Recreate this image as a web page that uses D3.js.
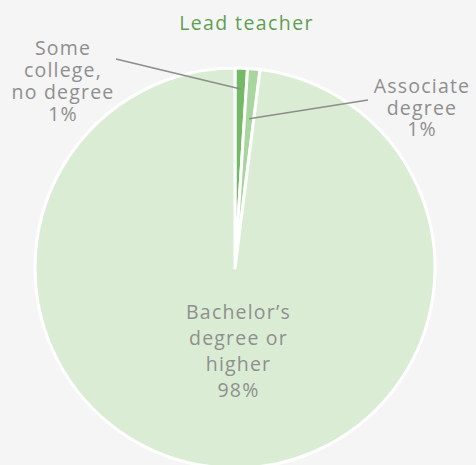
<!DOCTYPE html>
<html>
<head>
<meta charset="utf-8">
<script src="https://cdn.jsdelivr.net/npm/d3@7"></script>
<style>
  html, body { margin: 0; padding: 0; background: #f5f5f5; }
  svg { display: block; }
  text { font-family: "Open Sans", sans-serif; }
</style>
</head>
<body>
<script>
var width = 476,
    height = 465;

var title = 'Lead teacher';

// data
var categories = ['Some college, no degree', "Associate degree", 'Bachelor\u2019s degree or higher'];
var values = [1, 1, 98];
var labelLines = [
  ['Some', 'college,', 'no degree', '1%'],
  ['Associate', 'degree', '1%'],
  ['Bachelor\u2019s', 'degree or', 'higher', '98%']
];
var colors = ['#73b966', '#a9d69f', '#daedd4'];

var cx = 235, cy = 268, radius = 200;

var svg = d3.select('body')
  .append('svg')
  .attr('width', width)
  .attr('height', height);

svg.append('rect')
  .attr('width', width)
  .attr('height', height)
  .attr('fill', '#f5f5f5');

svg.append('text')
  .attr('x', 246.5)
  .attr('y', 30)
  .attr('text-anchor', 'middle')
  .attr('fill', '#5e9f51')
  .style('font-size', '19.5px')
  .style('letter-spacing', '1.4px')
  .text(title);

var pie = d3.pie().sort(null).value(function(d) { return d; });
var arc = d3.arc().innerRadius(0).outerRadius(radius);

var arcs = pie(values);

var g = svg.append('g')
  .attr('transform', 'translate(' + cx + ',' + cy + ')');

g.selectAll('path')
  .data(arcs)
  .enter().append('path')
  .attr('d', arc)
  .attr('fill', function(d, i) { return colors[i]; })
  .attr('stroke', '#fff')
  .attr('stroke-width', 3)
  .attr('stroke-linejoin', 'round');

// label layout: text center, first baseline, line spacing, leader start and leader radius
var layout = [
  { x: 63, y: 55, dy: 22, line: [116, 59], r: 179 },
  { x: 422, y: 93, dy: 21.5, line: [368, 100], r: 150 },
  { x: 238.5, y: 319, dy: 26, line: null }
];

arcs.forEach(function(d, i) {
  var L = layout[i];
  if (L.line) {
    var a = (d.startAngle + d.endAngle) / 2;
    svg.append('line')
      .attr('x1', L.line[0])
      .attr('y1', L.line[1])
      .attr('x2', cx + L.r * Math.sin(a))
      .attr('y2', cy - L.r * Math.cos(a))
      .attr('stroke', '#8d8d8d')
      .attr('stroke-width', 1.6);
  }
  labelLines[i].forEach(function(s, j) {
    svg.append('text')
      .attr('x', L.x)
      .attr('y', L.y + j * L.dy)
      .attr('text-anchor', 'middle')
      .attr('fill', '#8f8f8f')
      .style('font-size', '19.5px')
      .style('letter-spacing', '1.2px')
      .text(s);
  });
});
</script>
</body>
</html>
